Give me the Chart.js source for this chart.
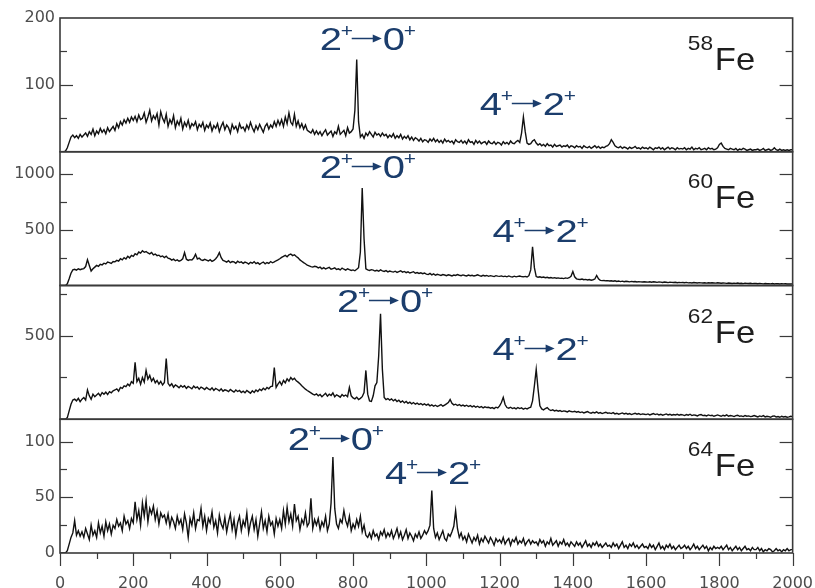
<!DOCTYPE html>
<html>
<head>
<meta charset="utf-8">
<script src="https://cdn.jsdelivr.net/npm/chart.js@4.4.1/dist/chart.umd.min.js"></script>
<style>
  html, body { margin: 0; padding: 0; background: #fff; }
  #wrap { width: 815px; height: 588px; }
</style>
</head>
<body>
<div id="wrap"><canvas id="spectra" width="815" height="588"></canvas></div>
<script>
// gamma energies (keV), one channel every 5 keV from 0 to 2000
const energyStep = 5
const energies = Array.from({ length: 401 }, (_, i) => i * energyStep)

// counts per channel
const counts58 = [
  0,0,0,1,6,14,22,25,21,24,20,26,22,25,28,23,30,26,34,24,
  31,27,35,29,33,27,36,30,34,38,32,42,36,45,40,48,43,50,44,52,
  47,53,45,55,48,50,58,44,52,62,46,54,49,57,40,60,50,44,56,38,
  48,42,54,36,46,40,50,34,44,38,47,35,42,39,45,33,41,37,44,32,
  40,36,43,31,39,35,42,30,38,44,33,40,36,28,41,34,38,30,42,35,
  37,31,40,34,44,36,30,39,33,41,35,29,38,42,34,40,36,45,38,47,
  40,48,38,52,42,58,44,40,56,38,46,36,42,34,40,32,30,28,33,26,
  31,26,30,24,29,33,25,28,31,23,30,27,38,26,29,32,24,36,28,30,
  34,62,138,45,22,26,20,28,24,30,26,22,29,25,27,23,28,24,26,21,
  25,22,27,20,24,21,26,19,23,20,24,18,22,17,21,19,16,20,15,18,
  17,14,19,16,20,15,18,14,17,13,19,15,17,14,16,12,18,15,14,17,
  13,16,12,18,14,15,11,17,13,16,12,14,15,11,16,13,12,15,11,14,
  13,10,15,12,14,11,16,13,12,15,17,14,28,52,30,13,11,12,16,18,
  13,10,12,9,11,8,12,9,10,7,11,8,9,10,7,9,8,10,6,9,
  8,6,9,7,8,5,9,7,6,8,5,7,9,6,8,5,7,6,8,9,
  12,18,14,9,7,6,8,5,7,6,4,7,5,6,8,5,6,4,7,5,
  6,4,7,5,3,6,5,7,4,6,3,5,7,4,6,5,3,6,4,5,
  4,6,3,5,4,7,3,5,4,6,3,4,5,3,6,4,5,3,4,6,
  11,13,8,5,4,3,5,4,3,5,2,4,3,5,4,2,3,4,2,3,
  3,4,2,3,5,2,3,4,2,3,6,3,2,4,2,3,2,3,2,3,
  3
]
const counts60 = [
  0,0,0,0,15,60,110,140,145,138,150,142,148,152,170,232,180,130,150,165,
  180,172,190,185,200,193,210,205,198,215,212,225,218,240,230,250,238,262,248,270,
  262,285,275,300,290,312,298,305,292,284,296,275,282,268,272,258,265,250,262,245,
  240,228,236,222,230,218,226,240,295,236,225,232,228,246,280,238,245,230,225,235,
  228,220,232,216,225,240,262,295,250,225,218,210,222,205,215,212,200,218,206,212,
  198,210,204,192,208,200,214,196,205,190,202,210,195,206,198,215,204,212,222,230,
  240,252,262,270,258,275,282,268,276,260,248,230,218,205,195,182,176,170,165,172,
  168,158,165,150,160,148,155,162,146,152,158,144,150,140,156,146,138,150,142,135,
  140,132,145,160,300,875,420,150,140,135,142,138,130,136,128,140,132,126,134,122,
  130,124,120,128,118,125,132,120,126,115,122,112,118,124,110,116,108,114,106,112,
  102,98,108,95,104,92,100,96,90,98,94,88,96,92,86,94,90,98,92,88,
  95,90,86,94,88,92,85,90,96,88,84,92,86,90,82,88,84,80,88,84,
  82,86,80,84,78,86,80,76,84,78,82,85,80,78,82,76,88,140,348,160,
  80,74,78,72,76,70,74,68,72,66,70,65,68,64,66,62,68,64,70,82,
  125,78,60,56,54,58,52,55,50,53,48,52,58,90,60,46,44,45,42,44,
  40,43,38,42,36,40,35,39,34,38,36,33,37,34,36,32,35,33,31,34,
  32,30,34,29,33,31,28,32,30,27,31,29,26,30,28,27,29,25,28,26,
  27,25,28,24,26,23,27,25,22,26,24,23,25,21,24,22,25,23,21,24,
  22,20,23,21,19,22,20,18,21,19,22,18,20,17,21,19,18,20,17,19,
  18,16,19,17,15,18,16,17,15,18,14,17,16,14,17,15,16,13,15,14,
  15
]
const counts62 = [
  0,0,0,0,10,50,90,115,120,110,125,105,120,130,115,175,140,120,150,135,
  145,155,140,160,150,162,148,165,158,170,175,182,168,190,185,200,195,210,200,225,
  215,340,225,245,210,250,222,292,240,262,228,245,218,232,210,226,205,220,363,215,
  200,212,192,205,198,188,202,192,200,185,196,190,182,198,188,194,180,192,186,178,
  190,182,176,188,172,184,178,170,182,168,176,172,165,178,170,162,175,166,172,160,
  168,158,172,164,156,170,160,175,166,180,172,185,176,190,182,195,198,309,190,210,
  225,205,232,218,242,228,250,236,245,230,222,212,200,190,180,172,165,158,150,145,
  152,140,148,135,145,155,138,150,142,158,135,146,140,132,148,138,145,135,190,140,
  128,122,132,118,125,135,160,292,150,110,107,140,200,220,380,631,300,130,118,124,
  115,122,110,118,106,114,102,110,98,106,95,102,92,100,90,96,88,94,86,92,
  84,90,80,86,78,84,76,82,88,78,85,92,100,118,96,86,90,82,88,80,
  85,78,84,76,82,74,80,72,78,70,76,68,74,70,72,66,70,64,72,68,
  80,100,131,88,70,66,72,64,68,62,70,64,68,60,66,62,68,72,110,200,
  298,180,80,62,56,64,70,58,52,56,50,54,48,52,46,50,48,44,50,46,
  44,48,42,46,40,44,38,42,46,40,36,42,38,44,36,40,34,38,42,36,
  38,34,40,32,36,30,34,38,32,36,30,34,28,32,36,30,34,28,32,30,
  28,32,26,30,34,28,32,26,30,24,28,32,26,30,24,28,26,30,24,28,
  26,22,28,24,30,22,26,24,20,26,28,22,24,20,26,22,24,18,22,26,
  22,18,24,20,26,18,22,20,16,22,24,18,20,16,22,18,20,16,18,22,
  18,14,20,16,22,14,18,16,12,18,20,14,16,12,18,14,16,12,14,18,
  16
]
const counts64 = [
  0,0,0,0,2,8,14,18,29,16,20,15,19,14,22,17,12,25,16,20,
  14,27,18,24,15,28,20,26,17,25,22,30,24,27,20,33,26,29,22,31,
  27,46,30,38,25,45,33,47,28,40,35,42,30,38,26,36,32,34,27,35,
  24,32,28,22,33,26,30,21,35,27,14,31,25,36,22,30,29,40,24,33,
  20,31,27,37,23,29,18,34,26,22,32,19,28,35,21,30,16,27,33,20,
  29,24,36,18,27,33,21,30,15,26,37,22,29,19,33,25,28,17,31,24,
  30,22,38,26,41,28,35,24,44,29,33,21,30,26,36,24,27,49,22,30,
  25,31,21,28,24,33,20,26,45,86,40,26,22,30,27,38,29,24,33,20,
  26,22,30,24,33,19,25,16,14,18,13,20,15,17,12,19,16,21,14,18,
  15,20,13,17,22,14,19,12,16,21,13,18,15,11,17,14,19,13,16,20,
  17,20,25,56,22,14,18,12,16,20,13,11,17,15,19,24,38,22,14,18,
  12,15,10,17,13,9,14,11,16,8,13,10,15,12,9,14,11,7,13,10,
  12,9,14,8,11,13,7,12,10,14,8,11,9,13,7,10,12,8,11,9,
  10,7,12,9,11,6,10,8,13,7,9,11,6,10,8,12,7,9,6,10,
  8,6,10,7,9,5,8,11,6,8,5,9,7,10,6,8,5,7,9,6,
  7,5,9,6,8,4,7,10,5,7,4,8,6,9,5,7,4,6,8,5,
  6,4,8,5,7,3,6,9,4,6,3,7,5,8,4,6,3,5,7,4,
  5,7,4,6,3,5,8,4,6,3,5,7,4,6,2,5,3,6,4,5,
  4,6,3,5,7,3,5,2,4,6,3,5,2,4,6,3,4,2,5,3,
  3,5,2,4,1,3,2,4,3,1,2,4,2,3,1,3,2,4,2,3,
  3
]

// axis ranges and ticks
const isotopes = ['58', '60', '62', '64']
const yMax = [200, 1200, 800, 120]
const yLabels = [[100, 200], [500, 1000], [500], [0, 50, 100]]
const yMajor = [[100], [500, 1000], [500], [50, 100]]
const yMinor = [[50, 150], [250, 750], [250, 750], [25, 75]]
const xLabels = [0, 200, 400, 600, 800, 1000, 1200, 1400, 1600, 1800, 2000]
const xMinor = [100, 300, 500, 700, 900, 1100, 1300, 1500, 1700, 1900]

// transition labels: panel, from, to, energy and count of the text's left baseline
const transitions = [
  [0, '2', '0', 709, 152], [0, '4', '2', 1146, 55],
  [1, '2', '0', 709, 967], [1, '4', '2', 1181, 394],
  [2, '2', '0', 756, 643], [2, '4', '2', 1181, 357],
  [3, '2', '0', 622, 92], [3, '4', '2', 887, 62]
]
// isotope names placed at energy 1714, count per panel
const isotopeLabelY = [122, 698, 458, 69]

const FONT = '"Liberation Sans", Arial, Helvetica, sans-serif'
const TICK_FONT = { family: '"DejaVu Sans", sans-serif', size: 16 }
const BLUE = '#1b3d6c'
const axisIds = isotopes.map((m) => 'y' + m)

const scales = {
  x: {
    type: 'linear', min: 0, max: 2000,
    grid: { display: false, drawTicks: true, tickLength: 19 },
    border: { display: false },
    afterBuildTicks: (s) => { s.ticks = xLabels.map((v) => ({ value: v })) },
    ticks: { color: '#4d4d4d', font: TICK_FONT, padding: 2, maxRotation: 0, autoSkip: false, callback: (v) => String(v) },
    afterFit: (s) => { s.height = 35 }
  }
}
axisIds.forEach((id, i) => {
  scales[id] = {
    type: 'linear', min: 0, max: yMax[i], position: 'left',
    stack: 'spectra', stackWeight: 1, weight: 4 - i,
    grid: { display: false, drawTicks: false },
    border: { display: false },
    afterBuildTicks: (s) => { s.ticks = yLabels[i].map((v) => ({ value: v })) },
    ticks: { color: '#4d4d4d', font: TICK_FONT, padding: 5, callback: (v) => String(v) },
    afterFit: (s) => { s.width = 60 }
  }
})

function line(ctx, x1, y1, x2, y2) {
  ctx.beginPath()
  ctx.moveTo(x1, y1)
  ctx.lineTo(x2, y2)
  ctx.stroke()
}

const framePlugin = {
  id: 'frames',
  afterDatasetsDraw(chart) {
    const { ctx, chartArea: a, scales: sc } = chart
    ctx.save()
    ctx.strokeStyle = '#3a3a3a'
    axisIds.forEach((id, i) => {
      const s = sc[id]
      ctx.lineWidth = 1.2
      yMajor[i].forEach((v) => {
        const y = Math.round(s.getPixelForValue(v)) + 0.5
        line(ctx, a.left, y, a.left + 13, y)
        line(ctx, a.right - 13, y, a.right, y)
      })
      yMinor[i].forEach((v) => {
        const y = Math.round(s.getPixelForValue(v)) + 0.5
        line(ctx, a.left, y, a.left + 7, y)
        line(ctx, a.right - 7, y, a.right, y)
      })
      ctx.lineWidth = 1.6
      ctx.strokeRect(a.left, s.top, a.right - a.left, s.bottom - s.top)
    })
    ctx.lineWidth = 1.2
    xLabels.forEach((v) => {
      const x = Math.round(sc.x.getPixelForValue(v)) + 0.5
      line(ctx, x, a.bottom, x, a.bottom + 13)
    })
    xMinor.forEach((v) => {
      const x = Math.round(sc.x.getPixelForValue(v)) + 0.5
      line(ctx, x, a.bottom, x, a.bottom + 6)
    })
    ctx.restore()
  }
}

// text stretched sideways like the original slide
function stretchedText(ctx, text, font, x, y, sx) {
  ctx.save()
  ctx.translate(x, y)
  ctx.scale(sx, 1)
  ctx.font = font
  ctx.fillText(text, 0, 0)
  ctx.restore()
}

const labelPlugin = {
  id: 'labels',
  afterDraw(chart) {
    const { ctx, scales: sc } = chart
    const big = '32px ' + FONT
    const sup = '19px ' + FONT
    ctx.save()
    ctx.textBaseline = 'alphabetic'
    ctx.textAlign = 'left'
    transitions.forEach(([p, from, to, e, c]) => {
      const x = sc.x.getPixelForValue(e)
      const y = sc[axisIds[p]].getPixelForValue(c)
      ctx.fillStyle = BLUE
      ctx.strokeStyle = BLUE
      stretchedText(ctx, from, big, x, y, 1.25)
      stretchedText(ctx, '+', sup, x + 21, y - 13, 1.1)
      const ay = Math.round(y - 12) + 0.5
      ctx.lineWidth = 1.5
      line(ctx, x + 32, ay, x + 58, ay)
      ctx.beginPath()
      ctx.moveTo(x + 62, ay)
      ctx.lineTo(x + 53, ay - 4)
      ctx.lineTo(x + 53, ay + 4)
      ctx.closePath()
      ctx.fill()
      stretchedText(ctx, to, big, x + 63, y, 1.25)
      stretchedText(ctx, '+', sup, x + 84, y - 13, 1.1)
    })
    isotopes.forEach((m, i) => {
      const x = sc.x.getPixelForValue(1714)
      const y = sc[axisIds[i]].getPixelForValue(isotopeLabelY[i])
      ctx.fillStyle = '#1e1e1e'
      stretchedText(ctx, m, '21px ' + FONT, x, y - 20, 1.08)
      stretchedText(ctx, 'Fe', '32px ' + FONT, x + 27, y, 1.08)
    })
    ctx.restore()
  }
}

const series = [counts58, counts60, counts62, counts64]

new Chart(document.getElementById('spectra').getContext('2d'), {
  type: 'line',
  data: {
    labels: energies,
    datasets: series.map((counts, i) => ({
      label: isotopes[i] + 'Fe',
      data: counts,
      yAxisID: axisIds[i],
      borderColor: '#111',
      borderWidth: 1.4,
      pointRadius: 0,
      tension: 0
    }))
  },
  options: {
    responsive: false,
    animation: false,
    events: [],
    layout: { padding: { left: 0, right: 22, top: 18, bottom: 0 } },
    plugins: { legend: { display: false }, tooltip: { enabled: false } },
    scales
  },
  plugins: [framePlugin, labelPlugin]
})
</script>
</body>
</html>
